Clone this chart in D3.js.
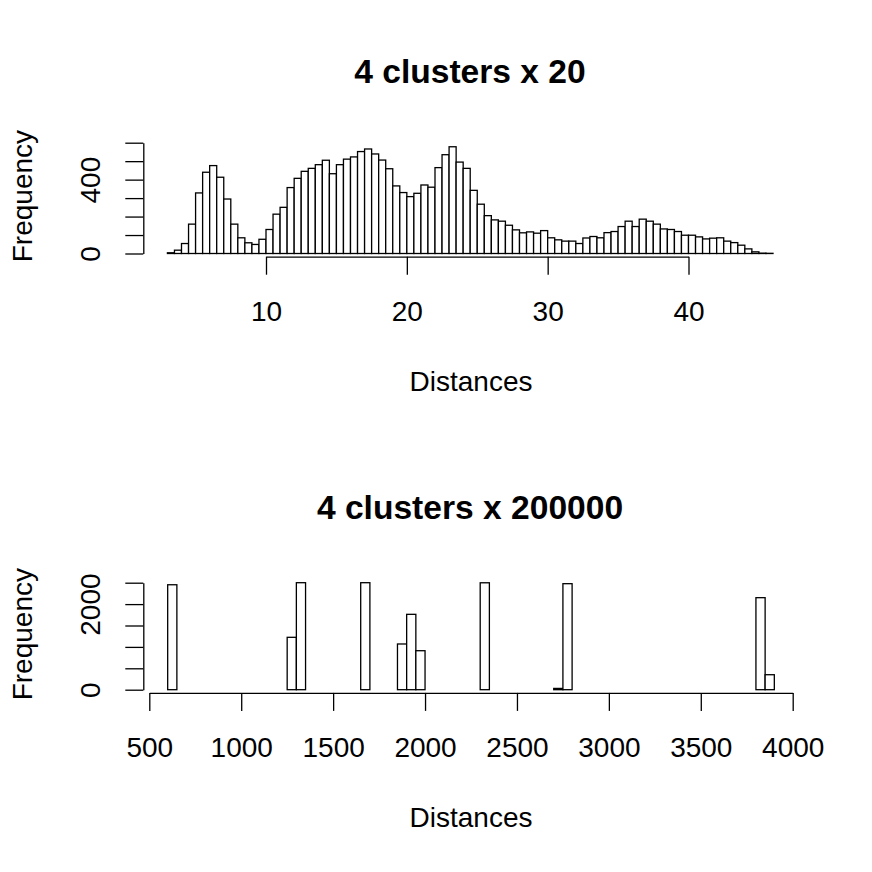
<!DOCTYPE html>
<html>
<head>
<meta charset="utf-8">
<script src="https://cdn.jsdelivr.net/npm/d3@7"></script>
<style>
  body { margin: 0; background: #fff; }
  svg { display: block; font-family: "Liberation Sans", Arial, Helvetica, sans-serif; }
  .bar { fill: #fff; stroke: #000; stroke-width: 1.3; }
  .axis path, .axis line { stroke: #000; stroke-width: 1.3; }
  .axis text { font-size: 28px; fill: #000; font-family: "Liberation Sans", Arial, Helvetica, sans-serif; }
  .lab { font-size: 28px; fill: #000; }
  .main { font-size: 33.6px; font-weight: bold; fill: #000; }
</style>
</head>
<body>
<div id="chart"></div>
<script>
// top histogram: 0.5 wide bins starting at 3
var topBinStart = 3;
var topBinWidth = 0.5;
var topCounts = [
  4, 18, 54, 159, 328, 440, 476, 413, 295, 159,
  85, 58, 49, 77, 130, 213, 250, 357, 407, 445,
  461, 481, 505, 432, 481, 511, 523, 552, 566, 539,
  506, 459, 366, 330, 308, 326, 371, 359, 465, 535,
  578, 495, 461, 342, 267, 205, 182, 175, 153, 128,
  112, 117, 110, 124, 85, 74, 67, 67, 54, 84,
  92, 85, 113, 119, 146, 175, 146, 186, 175, 159,
  133, 130, 119, 99, 99, 90, 79, 83, 85, 67,
  59, 45, 25, 9, 2, 1
];
var topXTicks = [10, 20, 30, 40];
var topYTicks = [0, 100, 200, 300, 400, 500, 600];
var topYLabels = [0, 400];

// bottom histogram: 50 wide bins starting at 600
var bottomBinStart = 600;
var bottomBinWidth = 50;
var bottomCounts = [
  2452, 0, 0, 0, 0, 0, 0, 0, 0, 0,
  0, 0, 0, 1224, 2500, 0, 0, 0, 0, 0,
  0, 2500, 0, 0, 0, 1068, 1761, 911, 0, 0,
  0, 0, 0, 0, 2498, 0, 0, 0, 0, 0,
  0, 0, 30, 2477, 0, 0, 0, 0, 0, 0,
  0, 0, 0, 0, 0, 0, 0, 0, 0, 0,
  0, 0, 0, 0, 2150, 350
];
var bottomXTicks = [500, 1000, 1500, 2000, 2500, 3000, 3500, 4000];
var bottomYTicks = [0, 500, 1000, 1500, 2000, 2500];
var bottomYLabels = [0, 2000];

var width = 872, height = 872;

var svg = d3.select("#chart").append("svg")
  .attr("width", width)
  .attr("height", height);

function drawHist(cfg) {
  var g = svg.append("g").attr("transform", "translate(0," + cfg.top + ")");

  var bins = cfg.counts.map(function(c, i) {
    return { x0: cfg.binStart + i * cfg.binWidth, x1: cfg.binStart + (i + 1) * cfg.binWidth, n: c };
  });

  var x = d3.scaleLinear().domain([cfg.xTicks[0], cfg.xTicks[cfg.xTicks.length - 1]]).range(cfg.xRange);
  var y = d3.scaleLinear().domain([0, cfg.yTicks[cfg.yTicks.length - 1]]).range(cfg.yRange);

  g.selectAll(".bar")
    .data(bins)
    .join("rect")
    .attr("class", "bar")
    .attr("x", d => x(d.x0))
    .attr("width", d => x(d.x1) - x(d.x0))
    .attr("y", d => y(d.n))
    .attr("height", d => y(0) - y(d.n));

  // x axis, R style: line only between first and last tick
  var xAxisY = cfg.yRange[0] + 3.2;
  var xAxis = g.append("g")
    .attr("class", "axis")
    .attr("transform", "translate(0," + xAxisY + ")")
    .call(d3.axisBottom(x).tickValues(cfg.xTicks).tickSize(18).tickSizeOuter(0).tickFormat(d3.format("d")));
  xAxis.selectAll("text")
    .attr("y", 64.3)
    .attr("dy", null);

  var yAxis = g.append("g")
    .attr("class", "axis")
    .attr("transform", "translate(143.3,0)")
    .call(d3.axisLeft(y).tickValues(cfg.yTicks).tickSize(18).tickSizeOuter(0)
      .tickFormat(d => cfg.yLabels.indexOf(d) >= 0 ? d : ""));
  yAxis.selectAll("text")
    .attr("transform", "rotate(-90)")
    .attr("text-anchor", "middle")
    .attr("x", 0)
    .attr("y", -43.3)
    .attr("dy", null);

  g.append("text")
    .attr("class", "main")
    .attr("x", 470)
    .attr("y", 83.3)
    .attr("text-anchor", "middle")
    .text(cfg.title);

  g.append("text")
    .attr("class", "lab")
    .attr("x", 471)
    .attr("y", xAxisY + 134)
    .attr("text-anchor", "middle")
    .text("Distances");

  g.append("text")
    .attr("class", "lab")
    .attr("transform", "translate(31.7," + ((cfg.yRange[0] + cfg.yRange[1]) / 2 - 2) + ") rotate(-90)")
    .attr("text-anchor", "middle")
    .text("Frequency");
}

drawHist({
  top: 0,
  title: "4 clusters x 20",
  binStart: topBinStart, binWidth: topBinWidth, counts: topCounts,
  xTicks: topXTicks, yTicks: topYTicks, yLabels: topYLabels,
  xRange: [266, 688.5], yRange: [253.5, 142.7]
});

drawHist({
  top: 436,
  title: "4 clusters x 200000",
  binStart: bottomBinStart, binWidth: bottomBinWidth, counts: bottomCounts,
  xTicks: bottomXTicks, yTicks: bottomYTicks, yLabels: bottomYLabels,
  xRange: [149.3, 792.7], yRange: [253.7, 146.7]
});
</script>
</body>
</html>
